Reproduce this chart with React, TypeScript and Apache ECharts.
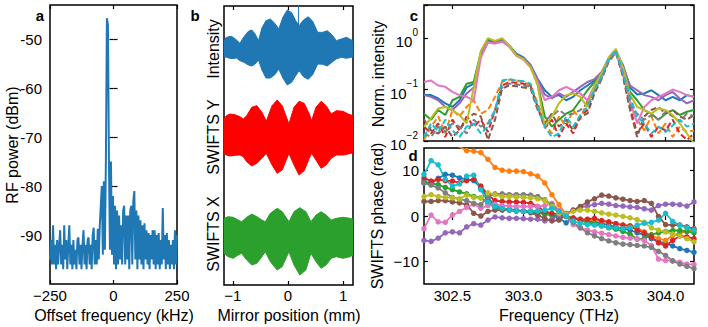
import React, { useEffect, useRef } from 'react';
import * as echarts from 'echarts';

const FONT = '"Liberation Sans", Arial, sans-serif';
const COL = {
  blue: '#1f77b4', orange: '#ff7f0e', green: '#2ca02c', red: '#d62728', purple: '#9467bd',
  brown: '#8c564b', pink: '#e377c2', gray: '#7f7f7f', olive: '#bcbd22', cyan: '#17becf',
};

// ---------- panel a: RF spectrum ----------
const rfOffsetKHz = [
  -250, -246, -242, -238, -234, -230, -226, -222, -218, -214, -210, -206, -202, -198, -194, -190, -186, -182, -178, -174,
  -170, -166, -162, -158, -154, -150, -146, -142, -138, -134, -130, -126, -122, -118, -114, -110, -106, -102, -98, -94,
  -90, -86, -82, -78, -74, -70, -66, -62, -58, -54, -50, -46, -42, -38, -34, -30, -26, -22, -18, -14, -10, -6, -2,
  2, 6, 10, 14, 18, 22, 26, 30, 34, 38, 42, 46, 50, 54, 58, 62, 66, 70, 74, 78, 82, 86, 90, 94, 98, 102, 106, 110,
  114, 118, 122, 126, 130, 134, 138, 142, 146, 150, 154, 158, 162, 166, 170, 174, 178, 182, 186, 190, 194, 198, 202,
  206, 210, 214, 218, 222, 226, 230, 234, 238, 242, 246, 250,
];
const rfPowerDBm = [
  -95, -91, -96, -88, -96, -92, -97, -91, -96, -92, -89, -96, -92, -97, -88, -95, -91, -97, -92, -88,
  -96, -92, -97, -91, -96, -93, -97, -91, -90.5, -96, -92, -97, -92, -89, -96, -92, -97, -91, -90.5, -96,
  -92, -97, -90, -88.5, -96, -91, -96, -88.7, -95, -88, -84, -80, -94, -79, -93, -75, -45.7, -47, -74.6, -93, -75, -94, -82,
  -96, -84, -97, -85, -96, -86, -95, -88, -96, -85, -84, -96, -86, -95, -86, -97, -85, -84, -96, -83, -81, -95, -85, -97, -86, -95, -87, -96,
  -88, -97, -87.6, -95, -89, -96, -89.6, -97, -90, -95, -89, -96, -89, -97, -90, -96, -89.6, -97, -91, -96, -84.5, -95, -90,
  -97, -89.6, -96, -91, -97, -92, -96, -91, -97, -89, -96, -90,
];

// ---------- panel b: interferogram envelopes (axis units, arbitrary) ----------
const intMirrorMM = [-1.16, -1.117, -1.025, -0.933, -0.871, -0.798, -0.718, -0.656, -0.595, -0.534, -0.472, -0.399,
  -0.319, -0.239, -0.166, -0.092, -0.012, 0.067, 0.141, 0.202, 0.282, 0.368, 0.448, 0.54, 0.632, 0.712, 0.798, 0.877,
  0.969, 1.061, 1.153, 1.18];
const intUpper = [244.3, 247.7, 248.7, 245, 241.7, 248.3, 253.7, 255, 251, 244.3, 257, 264.3, 266, 261.7, 256, 267.7,
  275, 272.3, 264.3, 259.3, 265, 268.3, 263.7, 252.7, 252.7, 254.3, 250.3, 244.3, 246, 247.7, 245, 243.7];
const intLower = [228.3, 227.7, 226.3, 227, 224.3, 222.7, 220, 219, 221, 225, 215, 207, 207, 210.3, 216, 207, 200,
  202.7, 209.3, 214.3, 208.3, 205.7, 210.3, 221, 220.7, 219, 222.7, 226, 227.7, 226.7, 227.7, 228.3];
const intSpike = [[0.19, 259], [0.19, 290]];

const swYMirrorMM = [-1.16, -1.117, -1.055, -0.963, -0.871, -0.81, -0.748, -0.656, -0.564, -0.472, -0.393, -0.288,
  -0.196, -0.104, 0.018, 0.11, 0.202, 0.294, 0.387, 0.429, 0.509, 0.601, 0.693, 0.785, 0.877, 1.0, 1.092, 1.18];
const swYUpper = [166, 169.3, 171, 170.3, 168.3, 166, 169.3, 177.7, 179.3, 172.7, 163.7, 179.3, 185, 179.3, 161, 177.7,
  183.7, 181.7, 171, 164.3, 177.7, 183.7, 179.3, 171, 174.3, 173.7, 171, 169.3];
const swYLower = [131.7, 130, 129, 129.7, 130, 128.3, 123.3, 119, 121.7, 126.7, 131.7, 120, 111.7, 115, 131.7, 120,
  110, 114.3, 126.7, 131.7, 125, 116.7, 120, 126.7, 130, 130, 131, 132.3];

const swXMirrorMM = [-1.16, -1.086, -0.994, -0.902, -0.84, -0.748, -0.656, -0.564, -0.472, -0.411, -0.319, -0.196,
  -0.104, 0.018, 0.11, 0.215, 0.325, 0.417, 0.509, 0.601, 0.693, 0.785, 0.877, 1.0, 1.123, 1.18];
const swXUpper = [66.7, 68.3, 67.7, 65, 63.3, 67.7, 71, 68.3, 65, 63.3, 71.7, 76.7, 73.3, 63.3, 73.3, 77.3, 73.3,
  63.3, 70, 73.3, 70, 65, 66.7, 67.7, 66.7, 65.7];
const swXLower = [31.7, 28.3, 26.7, 30, 31.7, 25, 20, 21.7, 28.3, 33.3, 23.3, 15, 18.3, 33.3, 20, 10, 15, 31.7, 23.3,
  16.7, 20, 26.7, 28.3, 26.7, 28.3, 30];

// ---------- panels c, d: spectra and phases ----------
const freqTHz = [302.30, 302.35, 302.40, 302.45, 302.50, 302.55, 302.60, 302.65, 302.70, 302.75, 302.80, 302.85, 302.90,
  302.95, 303.00, 303.05, 303.10, 303.15, 303.20, 303.25, 303.30, 303.35, 303.40, 303.45, 303.50, 303.55, 303.60,
  303.65, 303.70, 303.75, 303.80, 303.85, 303.90, 303.95, 304.00, 304.05, 304.10, 304.15, 304.20];

const intensityBlue = [0.078, 0.078, 0.067, 0.054, 0.046, 0.062, 0.11, 0.13, 0.5, 0.88, 0.82, 0.9, 0.72, 0.5, 0.42, 0.3, 0.16, 0.097, 0.072, 0.078, 0.062, 0.072, 0.097, 0.12, 0.15, 0.21, 0.38, 0.55, 0.3, 0.11, 0.08, 0.084, 0.097, 0.078, 0.062, 0.072, 0.062, 0.078, 0.072];
const intensityOrange = [0.0105, 0.019, 0.03, 0.014, 0.04, 0.03, 0.046, 0.062, 0.034, 0.04, 0.072, 0.14, 0.156, 0.15, 0.14, 0.12, 0.054, 0.022, 0.014, 0.03, 0.019, 0.04, 0.026, 0.062, 0.11, 0.18, 0.38, 0.56, 0.2, 0.05, 0.026, 0.016, 0.03, 0.014, 0.022, 0.012, 0.019, 0.015, 0.016];
const intensityGreen = [0.034, 0.026, 0.04, 0.032, 0.062, 0.072, 0.13, 0.14, 0.52, 0.95, 0.86, 0.95, 0.7, 0.46, 0.4, 0.28, 0.13, 0.03, 0.019, 0.026, 0.034, 0.04, 0.062, 0.097, 0.14, 0.2, 0.4, 0.56, 0.25, 0.09, 0.062, 0.04, 0.034, 0.026, 0.034, 0.04, 0.032, 0.037, 0.04];
const intensityRed = [0.019, 0.014, 0.022, 0.012, 0.026, 0.016, 0.03, 0.019, 0.026, 0.015, 0.04, 0.12, 0.14, 0.135, 0.13, 0.118, 0.046, 0.018, 0.026, 0.012, 0.022, 0.014, 0.03, 0.04, 0.097, 0.17, 0.37, 0.55, 0.19, 0.045, 0.014, 0.022, 0.012, 0.019, 0.016, 0.026, 0.014, 0.0105, 0.014];
const intensityPurple = [0.078, 0.072, 0.062, 0.046, 0.04, 0.054, 0.084, 0.11, 0.45, 0.85, 0.8, 0.88, 0.7, 0.47, 0.4, 0.29, 0.15, 0.08, 0.067, 0.084, 0.072, 0.09, 0.113, 0.14, 0.16, 0.22, 0.4, 0.56, 0.28, 0.12, 0.097, 0.078, 0.072, 0.062, 0.078, 0.09, 0.067, 0.054, 0.062];
const intensityBrown = [0.026, 0.016, 0.014, 0.019, 0.012, 0.016, 0.026, 0.034, 0.03, 0.0105, 0.026, 0.105, 0.12, 0.116, 0.11, 0.105, 0.04, 0.022, 0.034, 0.019, 0.026, 0.016, 0.03, 0.034, 0.084, 0.16, 0.35, 0.52, 0.18, 0.04, 0.012, 0.03, 0.04, 0.046, 0.034, 0.04, 0.03, 0.026, 0.032];
const intensityPink = [0.14, 0.15, 0.12, 0.113, 0.09, 0.078, 0.072, 0.062, 0.42, 0.82, 0.78, 0.85, 0.68, 0.45, 0.38, 0.27, 0.14, 0.062, 0.072, 0.097, 0.113, 0.097, 0.084, 0.062, 0.12, 0.2, 0.37, 0.53, 0.22, 0.06, 0.022, 0.046, 0.062, 0.072, 0.084, 0.1, 0.09, 0.078, 0.072];
const intensityGray = [0.014, 0.012, 0.019, 0.015, 0.022, 0.019, 0.014, 0.026, 0.019, 0.022, 0.04, 0.116, 0.13, 0.127, 0.12, 0.113, 0.043, 0.026, 0.03, 0.04, 0.032, 0.034, 0.04, 0.054, 0.097, 0.17, 0.36, 0.54, 0.2, 0.05, 0.034, 0.026, 0.032, 0.026, 0.037, 0.03, 0.024, 0.034, 0.03];
const intensityOlive = [0.019, 0.028, 0.043, 0.046, 0.04, 0.032, 0.022, 0.11, 0.56, 1.0, 0.88, 1.0, 0.72, 0.46, 0.39, 0.27, 0.12, 0.019, 0.03, 0.054, 0.078, 0.084, 0.072, 0.046, 0.12, 0.21, 0.42, 0.62, 0.27, 0.08, 0.046, 0.04, 0.034, 0.043, 0.04, 0.032, 0.022, 0.014, 0.009];
const intensityCyan = [0.012, 0.022, 0.015, 0.026, 0.016, 0.012, 0.019, 0.022, 0.014, 0.019, 0.04, 0.15, 0.16, 0.15, 0.145, 0.13, 0.046, 0.019, 0.012, 0.014, 0.03, 0.019, 0.032, 0.046, 0.1, 0.18, 0.4, 0.58, 0.21, 0.072, 0.03, 0.022, 0.014, 0.019, 0.015, 0.02, 0.026, 0.019, 0.022];

const phaseBlue = [7.7, 7.1, 8.3, 9.2, 9.0, 8.4, 8.1, 7.8, 6.2, 4.0, 2.3, 1.7, 1.5, 1.3, 1.1, 1.0, 1.0, 0.6, 0.2, -0.5, -1.5, -0.4, -0.7, -1.1, -1.3, -1.6, -2.0, -2.4, -2.8, -3.1, -3.7, -4.1, -5.0, -5.6, -6.1, -6.6, -7.2, -7.6, -8.0];
const phaseOrange = [17, 16.8, 16.5, 16.2, 15.8, 15.3, 14.4, 14.3, 14.0, 12.5, 10.7, 10.1, 9.9, 9.9, 9.8, 9.3, 8.8, 7.3, 4.7, 2.5, 0.2, -0.5, -0.7, -0.9, -0.9, -1.1, -1.4, -1.7, -2.0, -2.2, -2.6, -3.5, -4.3, -5.0, -5.4, -4.3, -3.7, -3.4, -3.1];
const phaseGreen = [7.3, 7.2, 6.9, 6.3, 5.8, 5.3, 4.9, 4.3, 4.0, 2.8, 1.9, 1.6, 1.3, 1.2, 1.0, 1.0, 0.7, 0.4, 0.2, 0, -0.1, -0.5, -1.0, -1.4, -1.7, -2.2, -2.6, -2.9, -3.4, -4.0, -5.1, -5.0, -4.1, -3.7, -3.4, -3.2, -3.2, -3.4, -3.7];
const phaseRed = [8.4, 7.7, 8.1, 7.8, 7.7, 7.3, 7.8, 8.1, 6.6, 4.7, 3.4, 3.2, 3.1, 3.1, 3.0, 2.8, 2.1, 1.0, 0.6, 0.4, -0.1, -0.5, -0.8, -0.7, -0.5, -1.0, -1.3, -1.7, -2.0, -2.2, -3.1, -3.7, -4.6, -5.9, -6.6, -5.4, -4.4, -4.6, -5.0];
const phasePurple = [-5.4, -5.6, -4.9, -3.7, -3.5, -3.7, -2.4, -1.7, -2.0, -0.9, -0.2, -0.4, -0.5, -0.5, -0.6, -0.7, -0.7, -1.1, -0.7, 0.1, 0.6, 1.3, 1.9, 2.2, 2.5, 2.8, 2.6, 2.3, 2.2, 2.0, 1.9, 1.6, 1.3, 2.3, 2.6, 2.6, 2.5, 2.2, 3.1];
const phaseBrown = [3.2, 3.2, 3.4, 3.4, 3.1, 2.9, 2.5, 0.6, 0, 1.0, 1.3, 1.3, 1.3, 1.1, 1.0, 0.7, 0.2, -0.5, -1.1, -0.9, 0.2, 1.3, 2.1, 3.1, 3.8, 4.6, 4.4, 4.0, 3.7, 3.4, 3.2, 3.4, 2.8, -0.1, -1.9, -2.0, -2.0, -2.4, -2.8];
const phasePink = [-2.8, 0.2, -1.3, -1.4, 0.2, 1.0, 1.9, 2.6, 1.7, 2.3, 2.6, 2.3, 2.2, 2.1, 2.1, 2.1, 2.1, 2.3, 2.8, 1.3, -0.1, -1.9, -2.6, -3.1, -3.5, -3.8, -4.1, -4.4, -4.7, -4.9, -5.0, -5.4, -6.5, -9.5, -9.8, -9.9, -10.2, -10.6, -10.7];
const phaseGray = [7.3, 6.8, 6.2, 5.1, 4.1, 3.7, 3.4, 2.8, 2.5, 4.3, 4.9, 4.9, 4.7, 4.7, 4.7, 4.6, 4.3, 3.6, 2.5, 1.0, -0.1, -1.4, -2.6, -3.7, -4.4, -5.0, -5.5, -5.9, -6.2, -6.3, -6.5, -6.6, -6.9, -7.8, -8.7, -9.9, -10.6, -11.1, -11.6];
const phaseOlive = [4.3, 4.7, 4.3, 4.1, 4.0, 3.8, 4.6, 4.1, 4.0, 5.1, 4.7, 4.3, 4.3, 4.2, 4.1, 4.0, 3.8, 3.4, 2.1, 0.6, 0.4, 1.0, 1.3, 1.3, 1.0, 0.7, 0.4, 0.2, -0.1, -0.4, -0.8, -1.4, -2.6, -3.1, -3.5, -4.0, -4.4, -5.0, -5.7];
const phaseCyan = [9.2, 12.2, 11.3, 8.1, 6.6, 7.1, 8.8, 9.0, 5.8, 3.1, 2.1, 1.7, 1.3, 1.1, 1.0, 1.0, 1.1, 1.3, 1.7, 1.0, 0, -1.1, -1.6, -1.9, -2.0, -2.2, -2.5, -2.6, -2.8, -2.5, -2.0, -1.6, -1.4, -0.9, 0.6, -1.2, -2.0, -2.6, -3.1];

const aXTicks = [-250, 0, 250];
const aYTicks = [-90, -80, -70, -60, -50];
const bXTicks = [-1, 0, 1];
const cdXTicks = [302.5, 303.0, 303.5, 304.0];
const dYTicks = [-10, 0, 10];

const intensitySeries = [
  { c: COL.blue, d: intensityBlue, dash: false },
  { c: COL.orange, d: intensityOrange, dash: true },
  { c: COL.green, d: intensityGreen, dash: false },
  { c: COL.red, d: intensityRed, dash: true },
  { c: COL.purple, d: intensityPurple, dash: false },
  { c: COL.brown, d: intensityBrown, dash: true },
  { c: COL.pink, d: intensityPink, dash: false },
  { c: COL.gray, d: intensityGray, dash: true },
  { c: COL.olive, d: intensityOlive, dash: false },
  { c: COL.cyan, d: intensityCyan, dash: true },
];
const phaseSeries = [
  { c: COL.blue, d: phaseBlue }, { c: COL.orange, d: phaseOrange }, { c: COL.green, d: phaseGreen },
  { c: COL.red, d: phaseRed }, { c: COL.purple, d: phasePurple }, { c: COL.brown, d: phaseBrown },
  { c: COL.pink, d: phasePink }, { c: COL.gray, d: phaseGray }, { c: COL.olive, d: phaseOlive },
  { c: COL.cyan, d: phaseCyan },
];

const minus = (v: number | string) => String(v).replace('-', '\u2212');
const zip = (xs: number[], ys: number[]) => xs.map((x, i) => [x, ys[i]]);

function tickAxis(gridIndex: number, min: number, max: number, ticks: number[] | null, position: string, showLabel: boolean, labelExtra: any = {}) {
  const ax: any = {
    type: 'value', gridIndex, min, max, position,
    axisLine: { show: false },
    splitLine: { show: false },
    axisTick: { show: !!ticks, inside: true, length: 4, lineStyle: { color: '#000', width: 1.2 } },
    axisLabel: { show: showLabel, color: '#000', fontSize: 15, fontFamily: FONT, ...labelExtra },
  };
  if (ticks) {
    ax.axisTick.customValues = ticks;
    ax.axisLabel.customValues = ticks;
  }
  return ax;
}

function logAxis(position: string, showLabel: boolean) {
  return {
    type: 'log', logBase: 10, gridIndex: 2, min: 0.01, max: 4.4, position,
    axisLine: { show: false },
    splitLine: { show: false },
    minorTick: { show: false },
    axisTick: { show: true, inside: true, length: 4, lineStyle: { color: '#000', width: 1.2 } },
    axisLabel: {
      show: showLabel, color: '#000', margin: 6, fontFamily: FONT,
      formatter: (v: number) => {
        const l = Math.log10(v);
        const e = Math.round(l);
        if (Math.abs(l - e) > 1e-6 || e > 0) return '';
        return '{b|10}{s|' + minus(e) + '}';
      },
      rich: {
        b: { fontSize: 15, lineHeight: 22, verticalAlign: 'bottom', fontFamily: FONT, color: '#000' },
        s: { fontSize: 10, lineHeight: 12, verticalAlign: 'top', fontFamily: FONT, color: '#000' },
      },
    },
  };
}

function text(x: number, y: number, t: string, size: number, bold = false, rot = 0) {
  const font = (bold ? 'bold ' : '') + size + 'px ' + FONT;
  return {
    type: 'text', x, y, rotation: rot,
    style: { text: t, font, fill: '#000', textAlign: 'center', textVerticalAlign: 'middle', align: 'center', verticalAlign: 'middle' },
  };
}

// filled envelope between lower and upper curves, drawn through the axis scales
function band(name: string, xs: number[], lower: number[], upper: number[], color: string) {
  return {
    type: 'custom', name, xAxisIndex: 2, yAxisIndex: 2, silent: true, clip: true,
    data: [[xs[0], lower[0]]],
    renderItem: (_p: any, api: any) => {
      const pts: number[][] = [];
      for (let i = 0; i < xs.length; i++) pts.push(api.coord([xs[i], upper[i]]));
      for (let i = xs.length - 1; i >= 0; i--) pts.push(api.coord([xs[i], lower[i]]));
      return {
        type: 'polygon',
        shape: { points: pts },
        style: { fill: color, stroke: color, lineWidth: 1 },
      };
    },
  };
}

export default function App() {
  const ref = useRef<HTMLDivElement>(null);
  useEffect(() => {
    if (!ref.current) return;
    const chart = echarts.init(ref.current, null, { renderer: 'svg' });
    const gridStyle = { show: true, borderColor: '#000', borderWidth: 1.5, backgroundColor: 'transparent', containLabel: false };
    const option: any = {
      animation: false,
      backgroundColor: '#fff',
      textStyle: { fontFamily: FONT },
      grid: [
        { left: 50, top: 5, width: 127, height: 279, ...gridStyle },
        { left: 224, top: 6, width: 129, height: 279, ...gridStyle },
        { left: 424, top: 5, width: 270, height: 136, ...gridStyle },
        { left: 424, top: 148, width: 270, height: 136, ...gridStyle },
      ],
      xAxis: [
        tickAxis(0, -250, 250, aXTicks, 'bottom', true, { margin: 4, formatter: (v: number) => minus(v) }),
        tickAxis(0, -250, 250, aXTicks, 'top', false),
        tickAxis(1, -1.16, 1.18, bXTicks, 'bottom', true, { margin: 3, formatter: (v: number) => minus(v) }),
        tickAxis(1, -1.16, 1.18, bXTicks, 'top', false),
        tickAxis(2, 302.3, 304.2, cdXTicks, 'bottom', false),
        tickAxis(2, 302.3, 304.2, cdXTicks, 'top', false),
        tickAxis(3, 302.3, 304.2, cdXTicks, 'bottom', true, { margin: 4, formatter: (v: number) => v.toFixed(1) }),
        tickAxis(3, 302.3, 304.2, cdXTicks, 'top', false),
      ],
      yAxis: [
        tickAxis(0, -100, -43, aYTicks, 'left', true, { margin: 8, formatter: (v: number) => String(v) }),
        tickAxis(0, -100, -43, aYTicks, 'right', false),
        tickAxis(1, 0, 279, null, 'left', false),
        logAxis('left', true),
        logAxis('right', false),
        tickAxis(3, -15, 15, dYTicks, 'left', true, { margin: 5, formatter: (v: number) => minus(v) }),
        tickAxis(3, -15, 15, dYTicks, 'right', false),
      ],
      series: [
        {
          type: 'line', xAxisIndex: 0, yAxisIndex: 0, symbol: 'none', data: zip(rfOffsetKHz, rfPowerDBm),
          lineStyle: { color: COL.blue, width: 2 }, silent: true,
        },
        band('Intensity', intMirrorMM, intLower, intUpper, COL.blue),
        {
          type: 'line', xAxisIndex: 2, yAxisIndex: 2, symbol: 'none', data: intSpike,
          lineStyle: { color: COL.blue, width: 1 }, silent: true,
        },
        band('SWIFTS Y', swYMirrorMM, swYLower, swYUpper, '#ff0000'),
        band('SWIFTS X', swXMirrorMM, swXLower, swXUpper, COL.green),
        ...intensitySeries.map((s) => ({
          type: 'line', xAxisIndex: 4, yAxisIndex: 3, symbol: 'none', data: zip(freqTHz, s.d),
          lineStyle: { color: s.c, width: 2, type: s.dash ? [6, 3] : 'solid' }, silent: true,
        })),
        ...phaseSeries.map((s) => ({
          type: 'line', xAxisIndex: 6, yAxisIndex: 5, symbol: 'circle', symbolSize: 5.5, showSymbol: true,
          data: zip(freqTHz, s.d), itemStyle: { color: s.c }, lineStyle: { color: s.c, width: 1.8 }, silent: true,
        })),
      ],
      graphic: [
        text(40, 15, 'a', 15, true),
        text(195, 15, 'b', 15, true),
        text(414, 15, 'c', 15, true),
        text(413, 155, 'd', 15, true),
        text(12, 145, 'RF power (dBm)', 16, false, Math.PI / 2),
        text(114, 315, 'Offset frequency (kHz)', 16),
        text(289, 315, 'Mirror position (mm)', 16),
        text(213, 49, 'Intensity', 16, false, Math.PI / 2),
        text(213, 137, 'SWIFTS Y', 16, false, Math.PI / 2),
        text(213, 234, 'SWIFTS X', 16, false, Math.PI / 2),
        text(378, 74, 'Norm. intensity', 16, false, Math.PI / 2),
        text(377, 216, 'SWIFTS phase (rad)', 16, false, Math.PI / 2),
        text(559, 315, 'Frequency (THz)', 16),
      ],
    };
    chart.setOption(option);
    return () => chart.dispose();
  }, []);
  return (
    <div
      ref={ref}
      style={{ position: 'fixed', left: 0, top: 0, width: 708, height: 327, background: '#fff' }}
    />
  );
}
